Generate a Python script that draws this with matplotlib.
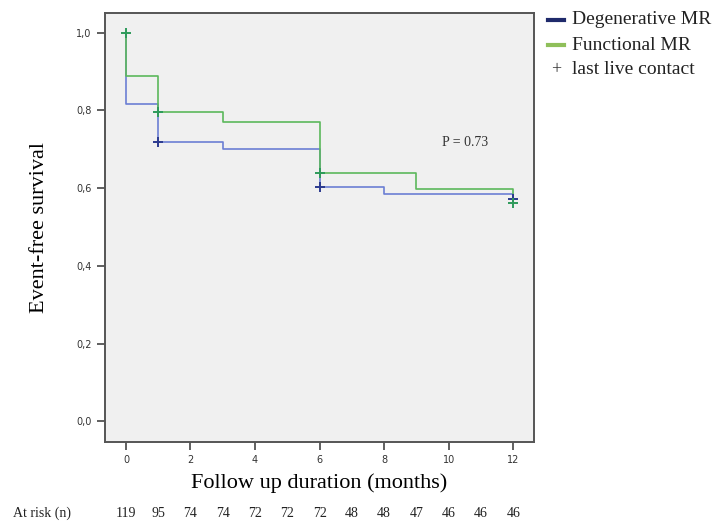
import numpy as np
import matplotlib
matplotlib.use('Agg')
import matplotlib.pyplot as plt
import matplotlib.transforms as mtransforms

# Kaplan-Meier step data
deg_times = [0, 0, 1, 3, 6, 8, 12, 12]
deg_surv = [1.0, 0.817, 0.718, 0.700, 0.602, 0.585, 0.585, 0.573]
fun_times = [0, 0, 1, 3, 6, 9, 12, 12]
fun_surv = [1.0, 0.890, 0.797, 0.770, 0.639, 0.598, 0.598, 0.562]

# censored observations ("last live contact")
deg_cens_t = [1, 6, 12]
deg_cens_s = [0.718, 0.602, 0.573]
fun_cens_t = [0, 1, 6, 12]
fun_cens_s = [1.0, 0.797, 0.639, 0.562]

at_risk_months = list(range(13))
at_risk = [119, 95, 74, 74, 72, 72, 72, 48, 48, 47, 46, 46, 46]

serif = 'Liberation Serif'

fig = plt.figure(figsize=(7.19, 5.23), dpi=100)
ax = fig.add_axes([0.146, 0.155, 0.597, 0.821])
ax.set_facecolor('#f0f0f0')

ax.step(deg_times, deg_surv, where='post', color='#6b7fd4', lw=1.2)
ax.step(fun_times, fun_surv, where='post', color='#5cb85c', lw=1.2)
ax.plot(deg_cens_t, deg_cens_s, '+', color='#2b3a8f', ms=7, mew=1.4)
ax.plot(fun_cens_t, fun_cens_s, '+', color='#2e9a5a', ms=7, mew=1.4)

ax.set_xlim(-0.65, 12.65)
ax.set_ylim(-0.053, 1.052)
ax.set_xticks([0, 2, 4, 6, 8, 10, 12])
ax.set_yticks([0.0, 0.2, 0.4, 0.6, 0.8, 1.0])
ax.set_yticklabels(['0,0', '0,2', '0,4', '0,6', '0,8', '1,0'])
ax.tick_params(direction='out', length=6, width=1.2, colors='#444444',
               labelsize=7, labelcolor='#333333')
for s in ax.spines.values():
    s.set_color('#555555')
    s.set_linewidth(1.4)

ax.set_xlabel('Follow up duration (months)', fontsize=16, family=serif, labelpad=6)
ax.set_ylabel('Event-free survival', fontsize=16, family=serif, labelpad=20)

ax.text(10.5, 0.717, 'P = 0.73', fontsize=10, family=serif, ha='center', va='center',
        color='#333333')

# number at risk row below the axis
trans = mtransforms.blended_transform_factory(ax.transData, fig.transFigure)
for m, n in zip(at_risk_months, at_risk):
    fig.text(m, 0.018, str(n), transform=trans, fontsize=10, family=serif,
             ha='center', va='center', color='#222222')
fig.text(0.018, 0.018, 'At risk (n)', fontsize=10, family=serif, ha='left', va='center',
         color='#222222')

# legend drawn by hand, right of the plot
leg_items = [('Degenerative MR', '#1f2a6b', '-'), ('Functional MR', '#8fbf5a', '-'),
             ('last live contact', '#333333', '+')]
for i, (lab, col, kind) in enumerate(leg_items):
    y = 1 - (20 + 25 * i) / 523
    if kind == '-':
        fig.add_artist(plt.Line2D([0.762, 0.785], [y, y], color=col, lw=3))
    else:
        fig.text(0.774, y, '+', fontsize=13, ha='center', va='center', color=col,
                 family=serif)
    fig.text(0.796, y, lab, fontsize=14, family=serif, ha='left', va='center',
             color='#222222')

fig.savefig('out.png', dpi=100)
